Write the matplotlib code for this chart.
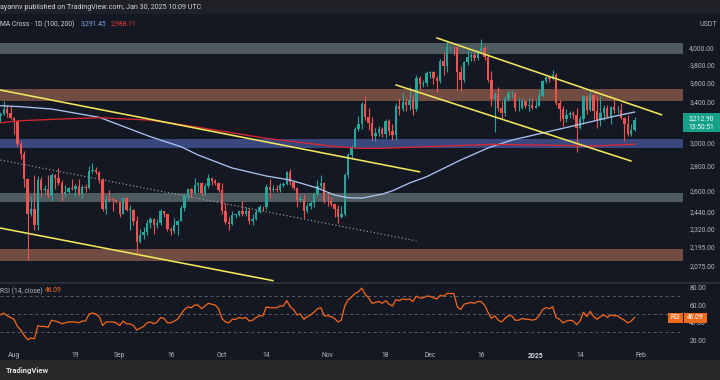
import numpy as np
import pandas as pd
import matplotlib
matplotlib.use("Agg")
import matplotlib.pyplot as plt
from matplotlib.patches import Rectangle
from matplotlib.ticker import NullLocator

plt.rcParams["font.family"] = ["Roboto", "DejaVu Sans"]

# daily ETH/USDT candles, 2024-07-28 .. 2025-01-30 (open = previous close)
START = pd.Timestamp("2024-07-28")
FIRST_OPEN = 3250

closes = [
    3270, 3320, 3280, 3230,
    # Aug
    3200, 2990, 2905, 2690, 2420, 2460, 2340, 2680, 2600, 2610,
    2555, 2720, 2700, 2660, 2570, 2590, 2615, 2612, 2635, 2575,
    2630, 2622, 2760, 2768, 2745, 2680, 2457, 2530, 2528, 2525, 2513,
    # Sep
    2425, 2538, 2450, 2450, 2368, 2225, 2270, 2295, 2360, 2388,
    2340, 2360, 2440, 2418, 2315, 2300, 2340, 2372, 2465, 2560,
    2613, 2582, 2645, 2655, 2580, 2633, 2695, 2677, 2658, 2603,
    # Oct
    2447, 2365, 2350, 2414, 2414, 2440, 2422, 2440, 2370, 2385,
    2438, 2476, 2470, 2630, 2606, 2611, 2604, 2643, 2647, 2747,
    2665, 2620, 2523, 2535, 2440, 2480, 2505, 2568, 2638, 2660, 2518,
    # Nov
    2515, 2492, 2460, 2398, 2420, 2720, 2895, 2960, 3130, 3180,
    3370, 3245, 3185, 3060, 3090, 3130, 3077, 3200, 3105, 3070,
    3355, 3325, 3395, 3362, 3415, 3325, 3650, 3580, 3590, 3700,
    # Dec
    3710, 3645, 3615, 3835, 3785, 4000, 4005, 4000, 3710, 3630,
    3830, 3880, 3905, 3875, 3960, 3990, 3880, 3630, 3420, 3480,
    3330, 3280, 3420, 3490, 3490, 3330, 3335, 3400, 3355, 3360, 3330,
    # Jan
    3355, 3450, 3610, 3655, 3635, 3680, 3380, 3325, 3220, 3265,
    3280, 3265, 3135, 3225, 3450, 3310, 3470, 3305, 3215, 3280,
    3330, 3245, 3340, 3310, 3315, 3230, 3180, 3080, 3120, 3212.9,
]

highs = [
    3290, 3400, 3365, 3350,
    3245, 3215, 3020, 2925, 2700, 2560, 2720, 2715, 2705, 2640,
    2720, 2740, 2730, 2785, 2680, 2640, 2630, 2690, 2650, 2690,
    2640, 2650, 2800, 2820, 2790, 2760, 2700, 2560, 2600, 2540, 2535,
    2520, 2550, 2550, 2490, 2460, 2405, 2315, 2325, 2380, 2400,
    2390, 2385, 2460, 2440, 2425, 2330, 2390, 2375, 2490, 2570,
    2615, 2620, 2700, 2670, 2670, 2660, 2730, 2700, 2690, 2670,
    2660, 2500, 2400, 2440, 2425, 2450, 2520, 2470, 2465, 2420,
    2460, 2490, 2480, 2650, 2690, 2645, 2640, 2660, 2665, 2760,
    2770, 2670, 2625, 2560, 2570, 2500, 2520, 2590, 2680, 2720, 2670,
    2590, 2550, 2495, 2490, 2480, 2740, 2910, 2980, 3150, 3250,
    3390, 3450, 3330, 3240, 3140, 3160, 3150, 3220, 3220, 3175,
    3380, 3430, 3500, 3430, 3550, 3460, 3680, 3670, 3620, 3720,
    3730, 3720, 3670, 3860, 3950, 4080, 4020, 4010, 4005, 3780,
    3840, 3970, 3940, 3950, 3970, 4100, 4010, 3920, 3730, 3500,
    3550, 3400, 3450, 3520, 3520, 3500, 3440, 3420, 3410, 3430, 3430,
    3410, 3520, 3620, 3670, 3670, 3740, 3700, 3410, 3350, 3320,
    3300, 3300, 3330, 3250, 3470, 3460, 3520, 3480, 3450, 3450,
    3360, 3360, 3350, 3420, 3350, 3380, 3240, 3260, 3180, 3240,
]

lows = [
    3190, 3260, 3240, 3225,
    3085, 2975, 2860, 2630, 2110, 2410, 2310, 2310, 2550, 2580,
    2540, 2520, 2610, 2640, 2520, 2550, 2580, 2600, 2560, 2560,
    2540, 2590, 2610, 2740, 2735, 2660, 2440, 2420, 2510, 2440, 2500,
    2400, 2420, 2440, 2310, 2340, 2150, 2220, 2245, 2270, 2320,
    2280, 2320, 2345, 2400, 2300, 2270, 2285, 2275, 2370, 2440,
    2530, 2540, 2575, 2590, 2560, 2560, 2620, 2645, 2640, 2590,
    2420, 2350, 2310, 2340, 2390, 2405, 2410, 2410, 2350, 2340,
    2380, 2430, 2440, 2460, 2540, 2590, 2585, 2590, 2630, 2640,
    2640, 2600, 2470, 2510, 2390, 2430, 2460, 2470, 2560, 2620, 2500,
    2480, 2480, 2400, 2360, 2395, 2410, 2700, 2860, 2950, 3110,
    3130, 3210, 3120, 3030, 3020, 3060, 3050, 3040, 3070, 3030,
    3030, 3260, 3300, 3300, 3310, 3260, 3300, 3520, 3550, 3560,
    3650, 3580, 3500, 3590, 3680, 3710, 3960, 3910, 3520, 3510,
    3600, 3790, 3840, 3840, 3850, 3920, 3850, 3600, 3350, 3100,
    3300, 3220, 3250, 3400, 3430, 3300, 3300, 3320, 3330, 3300, 3320,
    3330, 3350, 3440, 3590, 3600, 3620, 3360, 3200, 3160, 3190,
    3230, 3220, 2920, 3130, 3180, 3270, 3300, 3220, 3140, 3160,
    3210, 3240, 3180, 3280, 3280, 3220, 3020, 3060, 3060, 3110,
]

rsi = [
    49, 51, 48, 46,
    44, 36, 32, 26, 21, 23, 22, 37, 36, 36,
    35, 43, 42, 41, 39, 40, 41, 41, 41, 40,
    42, 42, 50, 51, 50, 47, 37, 41, 41, 41, 40,
    37, 42, 39, 39, 37, 32, 34, 36, 40, 41,
    39, 41, 46, 45, 40, 40, 42, 44, 50, 55,
    58, 57, 60, 60, 56, 59, 62, 61, 60, 56,
    45, 41, 40, 44, 44, 46, 45, 46, 42, 43,
    46, 48, 48, 58, 57, 57, 57, 59, 59, 65,
    58, 55, 49, 50, 44, 47, 49, 52, 56, 57, 48,
    48, 47, 45, 41, 43, 59, 66, 69, 73, 75,
    79, 72, 68, 62, 63, 64, 62, 65, 61, 59,
    66, 65, 67, 66, 67, 64, 70, 68, 68, 70,
    70, 68, 67, 71, 70, 73, 73, 73, 58, 55,
    61, 62, 63, 62, 64, 64, 60, 52, 45, 48,
    43, 41, 45, 48, 48, 43, 43, 45, 44, 44, 43,
    44, 48, 55, 57, 56, 58, 46, 44, 40, 42,
    43, 42, 38, 42, 52, 47, 53, 47, 44, 47,
    49, 46, 49, 48, 48, 45, 43, 40, 42, 46.09,
]

ma100_dates = ["2024-07-28", "2024-08-03", "2024-08-12", "2024-08-26", "2024-09-10",
               "2024-09-19", "2024-09-24", "2024-10-04", "2024-10-14", "2024-10-21",
               "2024-10-29", "2024-11-03", "2024-11-07", "2024-11-11", "2024-11-17",
               "2024-11-20", "2024-11-25", "2024-11-30", "2024-12-10", "2024-12-18",
               "2024-12-25", "2025-01-03", "2025-01-13", "2025-01-23", "2025-01-30"]
ma100_vals = [3355, 3345, 3322, 3240, 3056, 2965, 2892, 2781, 2715, 2682,
              2618, 2564, 2543, 2540, 2571, 2597, 2658, 2709, 2849, 2954,
              3025, 3090, 3165, 3242, 3291.45]

ma200_dates = ["2024-07-28", "2024-08-03", "2024-08-17", "2024-08-26", "2024-09-10",
               "2024-09-24", "2024-10-14", "2024-11-02", "2024-11-10", "2024-11-17",
               "2024-11-30", "2024-12-19", "2025-01-03", "2025-01-18", "2025-01-30"]
ma200_vals = [3187, 3207, 3226, 3236, 3213, 3144, 3041, 2971, 2951, 2951,
              2965, 2986, 2980, 2971, 2988.11]

# horizontal supply / demand zones
zone_low = [3920, 3405, 2950, 2510, 2100]
zone_high = [4050, 3525, 3035, 2580, 2177]
zone_kind = ["grey", "orange", "blue", "grey", "orange"]

# drawn trend lines (start date, end date, start price, end price)
trend_dates = [("2024-07-28", "2024-11-28"), ("2024-07-28", "2024-10-16"),
               ("2024-12-03", "2025-02-07"), ("2024-11-21", "2025-01-29")]
trend_prices = [(3517, 2749), (2321, 1981), (4115, 3264), (3572, 2840)]
dotted_dates = ("2024-07-28", "2024-11-27")
dotted_prices = (2849, 2233)

price_ticks = [4000, 3800, 3600, 3400, 3000, 2800, 2600, 2440, 2320, 2195, 2075]
rsi_ticks = [80, 60, 40, 20]
date_ticks = ["2024-08-01", "2024-08-19", "2024-09-01", "2024-09-16", "2024-10-01",
              "2024-10-14", "2024-11-01", "2024-11-18", "2024-12-01", "2024-12-16",
              "2025-01-01", "2025-01-14", "2025-02-01"]
date_labels = ["Aug", "19", "Sep", "16", "Oct", "14", "Nov", "18", "Dec", "16",
               "2025", "14", "Feb"]

BG = "#141823"
GREEN = "#26a69a"
RED = "#ef5350"
ZONE_COLORS = {"grey": "#4e5c60", "orange": "#714c42", "blue": "#3a477e"}
TXT = "#b2b5be"
W, H = 720, 380


def day(d):
    return (pd.Timestamp(d) - START).days


def fx(x):
    return x / W


def fy(y):
    return 1 - y / H


def main():
    c = np.array(closes, dtype=float)
    o = np.concatenate([[FIRST_OPEN], c[:-1]])
    hi = np.array(highs, dtype=float)
    lo = np.array(lows, dtype=float)
    idx = np.arange(len(c))
    col = np.where(c >= o, GREEN, RED)

    fig = plt.figure(figsize=(7.2, 3.8), dpi=100)
    fig.patch.set_facecolor(BG)

    # main price pane
    ax = fig.add_axes([0, fy(282), fx(683), (282 - 15) / H])
    ax.set_facecolor(BG)
    ax.set_yscale("log")
    ax.set_xlim(-0.106, 200.2)
    ax.set_ylim(1973, 4409)

    for zl, zh, zk in zip(zone_low, zone_high, zone_kind):
        ax.axhspan(zl, zh, color=ZONE_COLORS[zk], lw=0, zorder=1)

    ax.plot([day(d) for d in dotted_dates], dotted_prices, color="#a8abb4",
            lw=0.8, ls=(0, (1, 2.2)), zorder=2)

    ax.vlines(idx, lo, hi, colors=col, lw=0.8, zorder=3)
    body = np.maximum(np.abs(c - o), c * 0.002)
    ax.bar(idx, body, bottom=np.minimum(o, c), width=0.7, color=col, lw=0, zorder=4)

    ax.plot([day(d) for d in ma100_dates], ma100_vals, color="#a9c1ec", lw=0.95, zorder=5)
    ax.plot([day(d) for d in ma200_dates], ma200_vals, color="#d8262f", lw=0.95, zorder=5)

    for (d0, d1), (p0, p1) in zip(trend_dates, trend_prices):
        ax.plot([day(d0), day(d1)], [p0, p1], color="#f3e65c", lw=1.15,
                solid_capstyle="round", zorder=6)

    ax.yaxis.tick_right()
    ax.yaxis.set_minor_locator(NullLocator())
    ax.set_yticks(price_ticks)
    ax.set_yticklabels([f"{v:,.2f}" for v in price_ticks])
    ax.tick_params(axis="y", length=0, pad=4.5, labelsize=4.9, labelcolor=TXT)
    ax.set_xticks([])
    for s in ax.spines.values():
        s.set_visible(False)

    # RSI pane
    rax = fig.add_axes([0, fy(346), fx(683), (346 - 283) / H])
    rax.set_facecolor(BG)
    rax.set_xlim(-0.106, 200.2)
    rax.set_ylim(14.0, 84.8)
    for lvl in (70, 50, 30):
        rax.axhline(lvl, color="#5d606b", lw=0.7, ls=(0, (3, 3)))
    rax.plot(idx, rsi, color="#f7671b", lw=0.9)
    rax.yaxis.tick_right()
    rax.set_yticks(rsi_ticks)
    rax.set_yticklabels([f"{v:.2f}" for v in rsi_ticks])
    rax.tick_params(axis="y", length=0, pad=4.5, labelsize=4.9, labelcolor=TXT)
    rax.set_xticks([day(d) for d in date_ticks])
    rax.set_xticklabels(date_labels)
    rax.tick_params(axis="x", length=0, pad=4, labelsize=4.9, labelcolor=TXT)
    for t in rax.get_xticklabels():
        if t.get_text() == "2025":
            t.set_fontweight("bold")
            t.set_color("#d1d4dc")
    for s in rax.spines.values():
        s.set_visible(False)

    # pane separator, header and footer bars
    fig.patches.append(Rectangle((0, fy(283.5)), 1, 1.5 / H, transform=fig.transFigure,
                                 color="#2a2e39", lw=0))
    fig.patches.append(Rectangle((0, fy(14)), 1, 14 / H, transform=fig.transFigure,
                                 color="#1f2127", lw=0))
    fig.patches.append(Rectangle((0, 0), 1, 20 / H, transform=fig.transFigure,
                                 color="#29292b", lw=0))

    fig.text(fx(0), fy(7.5), "ayannv published on TradingView.com, Jan 30, 2025 10:09 UTC",
             color="#d1d4dc", fontsize=5.1, va="center", ha="left")
    fig.text(fx(0), fy(24), "MA Cross \u00b7 1D (100, 200)", color="#d1d4dc",
             fontsize=4.9, va="center", ha="left")
    fig.text(fx(81), fy(24), f"{ma100_vals[-1]:,.2f}", color="#7ea2e6",
             fontsize=4.9, va="center", ha="left")
    fig.text(fx(111), fy(24), f"{ma200_vals[-1]:,.2f}", color="#e0383f",
             fontsize=4.9, va="center", ha="left")
    fig.text(fx(717), fy(24), "USDT", color=TXT, fontsize=5.0, va="center", ha="right")

    fig.text(fx(0), fy(291), "RSI (14, close)", color=TXT, fontsize=4.9,
             va="center", ha="left")
    fig.text(fx(45), fy(291), f"{rsi[-1]:.2f}", color="#f7671b", fontsize=4.9,
             va="center", ha="left")

    fig.text(fx(6), fy(370), "TradingView", color="#e0e0e0", fontsize=5.5,
             fontweight="bold", va="center", ha="left")

    # last price label
    fig.patches.append(Rectangle((fx(683), fy(132)), fx(37), 19 / H,
                                 transform=fig.transFigure, color="#15a088", lw=0))
    fig.text(fx(701.5), fy(119), f"{closes[-1]:,.2f}", color="white", fontsize=4.8,
             va="center", ha="center")
    fig.text(fx(701.5), fy(127), "13:50:51", color="white", fontsize=4.8,
             va="center", ha="center")

    # RSI value label
    fig.patches.append(Rectangle((fx(668), fy(322.5)), fx(15), 10 / H,
                                 transform=fig.transFigure, color="#f26a1b", lw=0))
    fig.patches.append(Rectangle((fx(684), fy(322.5)), fx(23), 10 / H,
                                 transform=fig.transFigure, color="#f26a1b", lw=0))
    fig.text(fx(675.5), fy(317.5), "RSI", color="white", fontsize=4.8,
             va="center", ha="center")
    fig.text(fx(695.5), fy(317.5), f"{rsi[-1]:.2f}", color="white", fontsize=4.8,
             va="center", ha="center")

    fig.savefig("out.png", dpi=100, facecolor=BG)
    plt.close(fig)


if __name__ == "__main__":
    main()
